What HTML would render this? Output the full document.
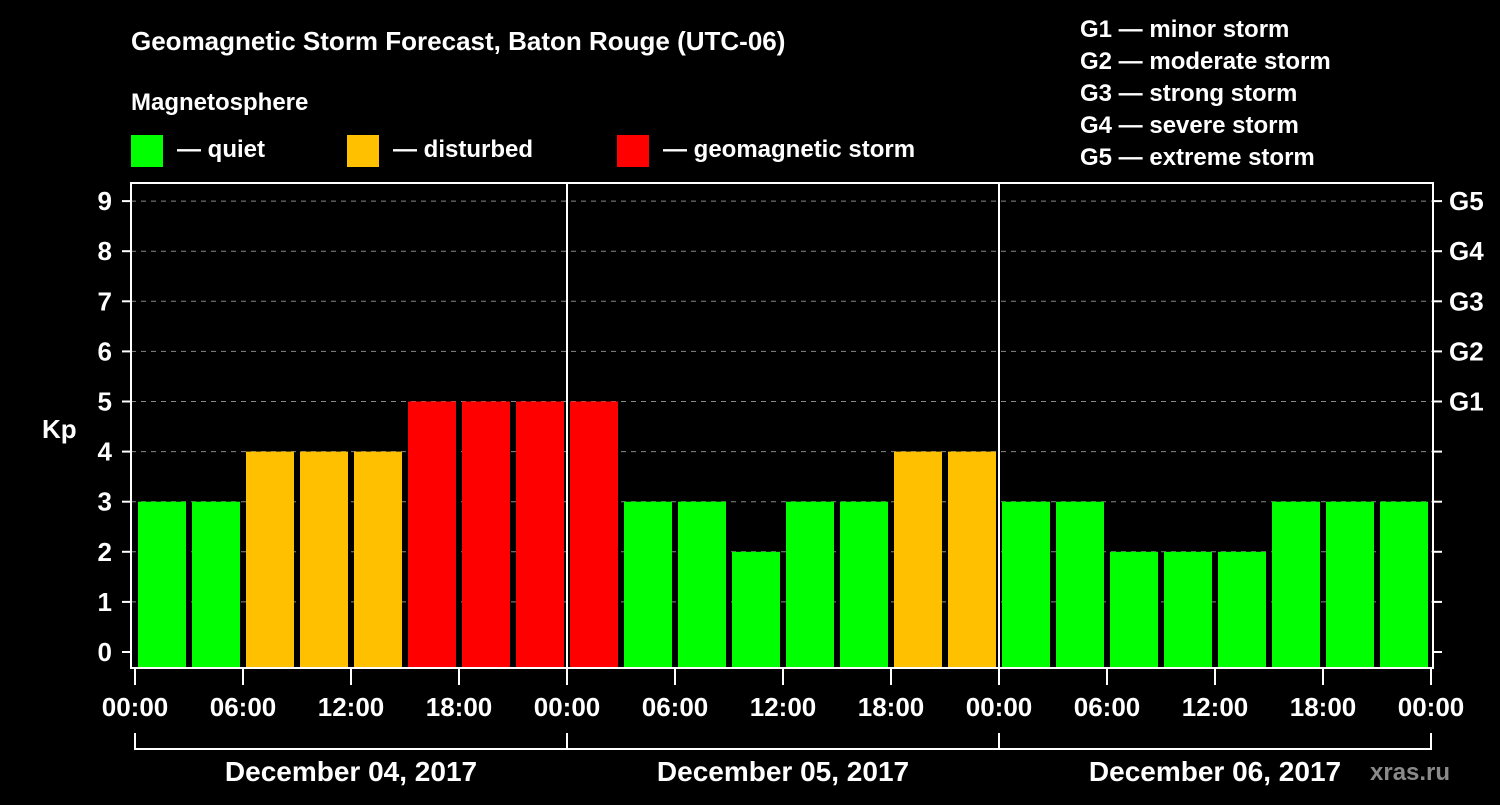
<!DOCTYPE html>
<html><head><meta charset="utf-8"><style>
body{margin:0;background:#000;width:1500px;height:800px;overflow:hidden}
svg text{font-family:"Liberation Sans",sans-serif;font-weight:bold;fill:#fff}
</style></head><body>
<svg id="chart" width="1500" height="800" viewBox="0 0 1500 800">
<text x="131" y="50" font-size="26">Geomagnetic Storm Forecast, Baton Rouge (UTC-06)</text>
<text x="131" y="110" font-size="24">Magnetosphere</text>
<g>
<rect x="131" y="135" width="32" height="32" fill="#00ff00"/>
<text x="177" y="157" font-size="24">— quiet</text>
<rect x="347" y="135" width="32" height="32" fill="#ffc000"/>
<text x="393" y="157" font-size="24">— disturbed</text>
<rect x="617" y="135" width="32" height="32" fill="#ff0000"/>
<text x="663" y="157" font-size="24">— geomagnetic storm</text>
</g>
<g font-size="24">
<text x="1080" y="37">G1 — minor storm</text>
<text x="1080" y="69">G2 — moderate storm</text>
<text x="1080" y="101">G3 — strong storm</text>
<text x="1080" y="133">G4 — severe storm</text>
<text x="1080" y="165">G5 — extreme storm</text>
</g>
<g id="grid"></g><g id="bars"></g><g id="axes"></g>
<text x="42" y="438" font-size="26">Kp</text>
<text x="1370" y="780" font-size="24" fill="#888" style="fill:#8a8a8a">xras.ru</text>
</svg>
<script>
const kpValues=[3,3,4,4,4,5,5,5, 5,3,3,2,3,3,4,4, 3,3,2,2,2,3,3,3];
const yTicks=[0,1,2,3,4,5,6,7,8,9];
const gLabels=["G1","G2","G3","G4","G5"];
const hourLabels=["00:00","06:00","12:00","18:00"];
const dayLabels=["December 04, 2017","December 05, 2017","December 06, 2017"];
const NS="http://www.w3.org/2000/svg";
const X0=135,PXH=18,PL=131,PR=1433,PT=183,PB=668;
const xH=h=>X0+h*PXH;
const yK=k=>652-k*50.1;
function mk(t,a,p){const e=document.createElementNS(NS,t);for(const k in a)e.setAttribute(k,a[k]);p.appendChild(e);return e;}
const grid=document.getElementById('grid'),bars=document.getElementById('bars'),axes=document.getElementById('axes');
yTicks.forEach(k=>{
 if(k>=1){const l=mk('line',{x1:PL,x2:PR,y1:yK(k),y2:yK(k),stroke:'#888','stroke-dasharray':'5,5','stroke-width':1},grid);
 }
 const t=mk('line',{x1:122,x2:PL,y1:yK(k),y2:yK(k),stroke:'#fff','stroke-width':2},axes);
 const t2=mk('line',{x1:PR,x2:1442,y1:yK(k),y2:yK(k),stroke:'#fff','stroke-width':2},axes);
 const tx=mk('text',{x:112,y:yK(k)+9,'font-size':26,'text-anchor':'end'},axes);tx.textContent=k;
 
});
gLabels.forEach((g,i)=>{const tx=mk('text',{x:1449,y:yK(5+i)+9,'font-size':26},axes);tx.textContent=g;
 });
kpValues.forEach((v,i)=>{
 const c=v>=5?'#ff0000':(v>=4?'#ffc000':'#00ff00');
 const y=yK(v);
 const r=mk('rect',{x:xH(i*3)+3,y:y,width:48,height:PB-y,fill:c},bars);
 
});
mk('rect',{x:PL,y:PT,width:PR-PL,height:PB-PT,fill:'none',stroke:'#fff','stroke-width':2},axes);
for(let d=1;d<dayLabels.length;d++){mk('line',{x1:xH(d*24),x2:xH(d*24),y1:PT,y2:PB,stroke:'#fff','stroke-width':2},axes);}
for(let h=0;h<=72;h+=6){
 mk('line',{x1:xH(h),x2:xH(h),y1:PB,y2:685,stroke:'#fff','stroke-width':2},axes);
 const tx=mk('text',{x:xH(h),y:716,'font-size':26,'text-anchor':'middle'},axes);
 tx.textContent=hourLabels[(h/6)%4];
 
}
mk('line',{x1:xH(0),x2:xH(72),y1:749,y2:749,stroke:'#fff','stroke-width':2},axes);
for(let d=0;d<=dayLabels.length;d++)mk('line',{x1:xH(d*24),x2:xH(d*24),y1:733,y2:750,stroke:'#fff','stroke-width':2},axes);
dayLabels.forEach((s,d)=>{const tx=mk('text',{x:xH(d*24+12),y:781,'font-size':28,'text-anchor':'middle'},axes);tx.textContent=s;
 });
</script>
</body></html>
